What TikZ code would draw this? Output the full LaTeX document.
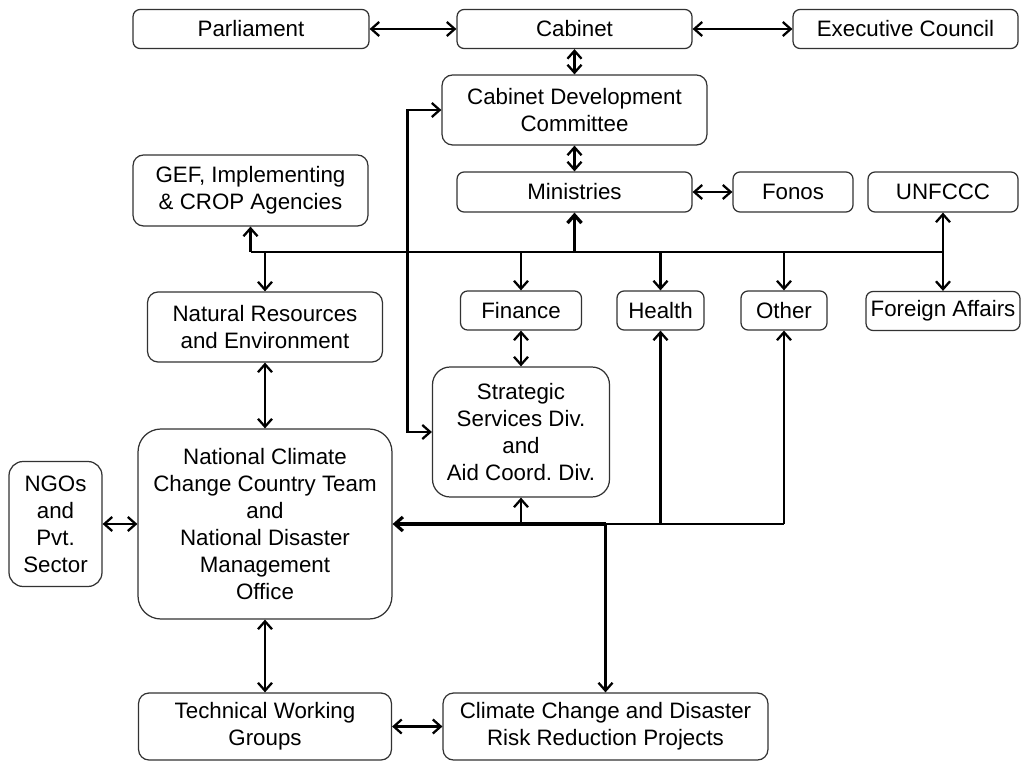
\documentclass[tikz,border=0pt]{standalone}
\usepackage{fontspec}
\setmainfont{Liberation Sans}
\usetikzlibrary{arrows.meta}
\definecolor{boxline}{RGB}{50,50,50}

\begin{document}
\begin{tikzpicture}[
    x=0.02cm, y=-0.02cm,
    box/.style={
        rectangle,
        rounded corners=4pt,
        draw=boxline,
        fill=white,
        line width=0.7pt,
        align=center,
        inner sep=1pt,
        font=\fontsize{12.7}{15.3}\selectfont
    },
    smallbox/.style={box, minimum height=0.78cm},
    link/.style={
        <->,
        >={Straight Barb[length=4.5pt,width=8pt]},
        line width=1.3pt
    },
    arrow/.style={
        ->,
        >={Straight Barb[length=4.5pt,width=8pt]},
        line width=1.3pt
    },
    bus/.style={line width=1.3pt}
]

\useasboundingbox (0,0) rectangle (1021,763);

% Top row
\node[smallbox, minimum width=4.72cm] (parl) at (251,29) {Parliament};
\node[smallbox, minimum width=4.70cm] (cab) at (574.5,29) {Cabinet};
\node[smallbox, minimum width=4.50cm] (exec) at (905.5,29) {Executive Council};

% Cabinet level
\node[box, rounded corners=6pt, minimum width=5.30cm, minimum height=1.40cm] (cdc) at (574.5,110) {Cabinet Development\\Committee};
\node[box, rounded corners=6pt, minimum width=4.70cm, minimum height=1.42cm] (gef) at (250.5,190.5) {GEF, Implementing\\\& CROP Agencies};
\node[smallbox, minimum width=4.70cm, minimum height=0.80cm] (min) at (574.5,192) {Ministries};
\node[smallbox, minimum width=2.40cm, minimum height=0.80cm] (fonos) at (793,192) {Fonos};
\node[smallbox, minimum width=3.00cm, minimum height=0.80cm] (unf) at (943,192) {UNFCCC};

% Ministries row
\node[box, rounded corners=6pt, minimum width=4.70cm, minimum height=1.40cm] (nre) at (265,327) {Natural Resources\\and Environment};
\node[smallbox, minimum width=2.42cm] (fin) at (521,310.5) {Finance};
\node[smallbox, minimum width=1.74cm] (health) at (660.5,310.5) {Health};
\node[smallbox, minimum width=1.72cm] (other) at (784,310.5) {Other};
\node[smallbox, minimum width=3.08cm] (fa) at (943,311) {Foreign Affairs};

% Middle
\node[box, rounded corners=10pt, minimum width=3.54cm, minimum height=2.60cm] (strat) at (521,432) {Strategic\\Services Div.\\and\\Aid Coord.\ Div.};
\node[box, rounded corners=13pt, minimum width=5.08cm, minimum height=3.80cm] (ncc) at (265,524) {National Climate\\Change Country Team\\and\\National Disaster\\Management\\Office};
\node[box, rounded corners=8pt, minimum width=1.86cm, minimum height=2.50cm] (ngo) at (55.5,524) {NGOs\\and\\Pvt.\\Sector};

% Bottom row
\node[box, rounded corners=6pt, minimum width=5.06cm, minimum height=1.34cm] (twg) at (265,726.5) {Technical Working\\Groups};
\node[box, rounded corners=6pt, minimum width=6.50cm, minimum height=1.34cm] (ccdrr) at (605.5,726.5) {Climate Change and Disaster\\Risk Reduction Projects};

% Bus lines
\coordinate (upbus) at (0,252);
\coordinate (lowbus) at (0,524);

% Top connections
\draw[link] (parl) -- (cab);
\draw[link] (cab) -- (exec);
\draw[link] (cab) -- (cdc);
\draw[link] (cdc) -- (min);
\draw[link] (min) -- (fonos);
\draw[link] (cdc.west) -- ++(-34,0) |- (strat.west);

% Upper bus
\draw[bus] (gef.south |- upbus) -- (unf.south |- upbus);
\draw[arrow] (gef.south |- upbus) -- (gef.south);
\draw[arrow] (nre.north |- upbus) -- (nre.north);
\draw[arrow, line width=1.9pt] (min.south |- upbus) -- (min.south);
\draw[arrow] (fin.north |- upbus) -- (fin.north);
\draw[arrow] (health.north |- upbus) -- (health.north);
\draw[arrow] (other.north |- upbus) -- (other.north);
\draw[link] (unf) -- (fa);

% Lower bus
\draw[bus] (other.south |- lowbus) -- (ccdrr.north |- lowbus);
\draw[arrow, line width=1.8pt] (ccdrr.north |- lowbus) -- (ncc.east);
\draw[arrow] (strat.south |- lowbus) -- (strat.south);
\draw[arrow] (health.south |- lowbus) -- (health.south);
\draw[arrow] (other.south |- lowbus) -- (other.south);
\draw[arrow] (ccdrr.north |- lowbus) -- (ccdrr.north);

% Other connections
\draw[link] (fin) -- (strat);
\draw[link] (nre) -- (ncc);
\draw[link] (ngo) -- (ncc);
\draw[link] (ncc) -- (twg);
\draw[link] (twg) -- (ccdrr);

\end{tikzpicture}
\end{document}
